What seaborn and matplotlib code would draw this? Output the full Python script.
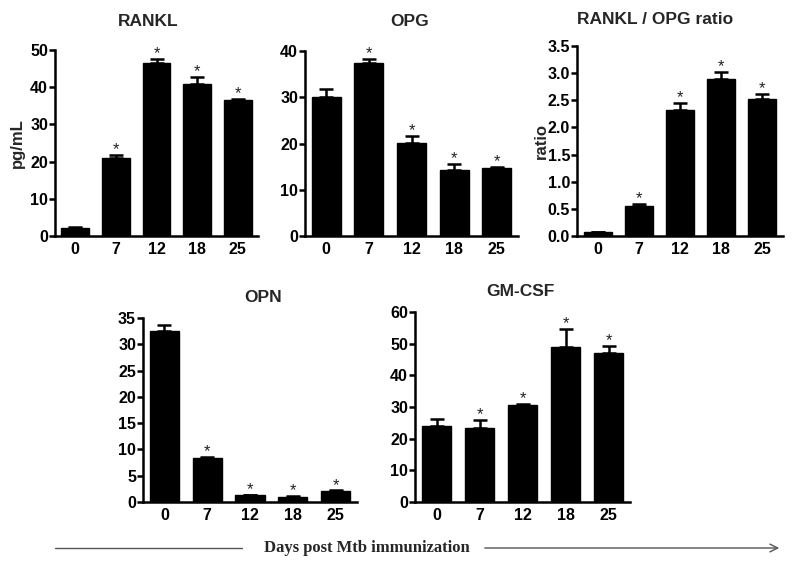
import matplotlib
matplotlib.use("Agg")
import matplotlib.pyplot as plt
import seaborn as sns
import numpy as np
from matplotlib.lines import Line2D
from matplotlib.patches import FancyArrowPatch

# Data
days = ["0", "7", "12", "18", "25"]

rankl = [2.2, 21.0, 46.5, 40.8, 36.5]
rankl_err = [0.2, 0.8, 1.2, 2.0, 0.3]

opg = [30.0, 37.3, 20.2, 14.2, 14.6]
opg_err = [1.7, 1.0, 1.5, 1.3, 0.3]

ratio = [0.07, 0.56, 2.33, 2.90, 2.52]
ratio_err = [0.01, 0.03, 0.12, 0.13, 0.09]

opn = [32.6, 8.3, 1.3, 1.0, 2.1]
opn_err = [1.1, 0.3, 0.1, 0.1, 0.1]

gmcsf = [24.0, 23.5, 30.5, 48.8, 47.0]
gmcsf_err = [2.2, 2.5, 0.6, 5.8, 2.4]

stars = [False, True, True, True, True]

W, H = 800, 563
sns.set_theme(style="ticks")
plt.rcParams["font.family"] = ["Liberation Sans", "DejaVu Sans"]

fig = plt.figure(figsize=(W / 100, H / 100), dpi=100)


def px_axes(left, right, top, bottom):
    return fig.add_axes([left / W, 1 - bottom / H, (right - left) / W, (bottom - top) / H])


def panel(box, values, errs, ymax, ystep, title, title_xy, ylabel=None, fmt="{:.0f}",
          labelpad=4):
    ax = px_axes(*box)
    sns.barplot(x=days, y=values, color="black", width=0.68, ax=ax,
                saturation=1, edgecolor="black", errorbar=None)
    x = np.arange(len(days))
    ax.errorbar(x, values, yerr=[np.zeros(len(errs)), errs], fmt="none",
                ecolor="black", elinewidth=1.8, capsize=5, capthick=1.8)
    for xi, v, e, s in zip(x, values, errs, stars):
        if s:
            ax.text(xi, v + e - ymax * 0.012, "*", ha="center", va="bottom",
                    fontsize=12, color="#222222")
    ax.set_xlim(-0.5, 4.5)
    ax.set_ylim(0, ymax)
    ticks = np.arange(0, ymax + ystep / 2, ystep)
    ax.set_yticks(ticks)
    ax.set_yticklabels([fmt.format(t) for t in ticks])
    for sp in ["top", "right"]:
        ax.spines[sp].set_visible(False)
    for sp in ["left", "bottom"]:
        ax.spines[sp].set_linewidth(1.8)
        ax.spines[sp].set_color("black")
    ax.tick_params(axis="y", length=4, width=1.8, pad=1, labelsize=11.5, colors="black")
    ax.tick_params(axis="x", length=0, pad=4, labelsize=11.5, colors="black")
    for lab in ax.get_xticklabels() + ax.get_yticklabels():
        lab.set_fontweight("bold")
    ax.set_xlabel("")
    if ylabel:
        ax.set_ylabel(ylabel, fontsize=12, fontweight="bold", labelpad=labelpad)
    else:
        ax.set_ylabel("")
    fig.text(title_xy[0] / W, 1 - title_xy[1] / H, title, ha="center", va="center",
             fontsize=12.5, fontweight="bold")
    return ax


panel((55, 258, 50, 236), rankl, rankl_err, 50, 10, "RANKL", (148, 22), ylabel="pg/mL")
panel((305, 518, 51, 236), opg, opg_err, 40, 10, "OPG", (410, 22))
panel((577, 783, 46, 236), ratio, ratio_err, 3.5, 0.5, "RANKL / OPG ratio", (655, 19),
      ylabel="ratio", fmt="{:.1f}", labelpad=-1)
panel((143, 357, 318, 502), opn, opn_err, 35, 5, "OPN", (263, 298))
panel((415, 630, 312, 502), gmcsf, gmcsf_err, 60, 10, "GM-CSF", (520, 292))

# Bottom annotation with arrow
fig.add_artist(Line2D([55 / W, 242 / W], [1 - 548 / H, 1 - 548 / H],
                      color="#555555", lw=1))
fig.add_artist(FancyArrowPatch((482 / W, 1 - 548 / H), (782 / W, 1 - 548 / H),
                               transform=fig.transFigure, arrowstyle="->",
                               mutation_scale=14, color="#555555", lw=1))
fig.text(367 / W, 1 - 548 / H, "Days post Mtb immunization", ha="center", va="center",
         fontsize=12, fontweight="bold",
         family=["Liberation Serif", "DejaVu Serif"])

fig.savefig("out.png", dpi=100, facecolor="white")
